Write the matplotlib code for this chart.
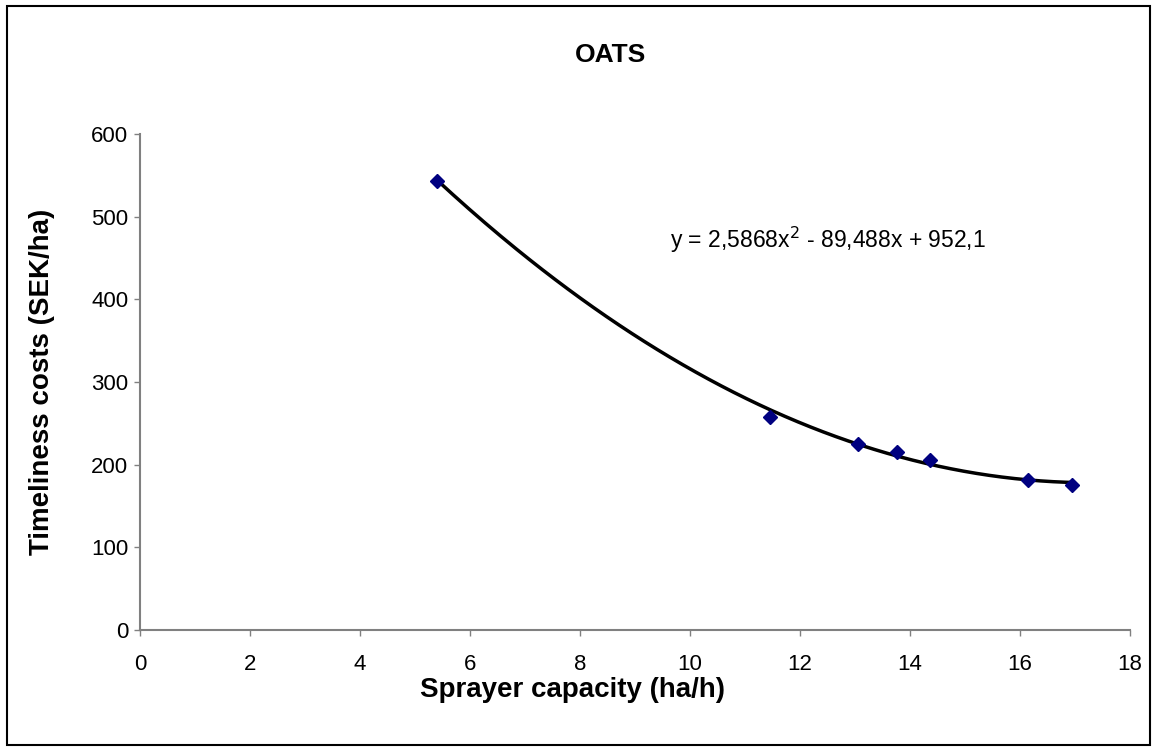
import numpy as np
import matplotlib
matplotlib.use("Agg")
import matplotlib.pyplot as plt
from matplotlib.patches import Rectangle

plt.rcParams['font.family'] = ['Liberation Sans', 'DejaVu Sans']

capacity = [5.4, 11.45, 13.05, 13.76, 14.37, 16.15, 16.95]
costs = [543, 258, 225, 215, 206, 182, 176]
coef = [2.5868, -89.488, 952.1]
title = "OATS"
xlabel = "Sprayer capacity (ha/h)"
ylabel = "Timeliness costs (SEK/ha)"
xticks = list(range(0, 19, 2))
yticks = list(range(0, 601, 100))

fig = plt.figure(figsize=(11.56, 7.51), dpi=100)
ax = fig.add_axes([140/1156, 1-630/751, 990/1156, 496/751])

xs = np.linspace(min(capacity), max(capacity), 200)
ax.plot(xs, np.polyval(coef, xs), color='black', lw=2.5, zorder=2)
ax.plot(capacity, costs, linestyle='none', marker='D', markersize=7,
        color='#000080', zorder=3)

ax.set_xlim(0, 18)
ax.set_ylim(0, 600)
ax.set_xticks(xticks)
ax.set_yticks(yticks)
ax.tick_params(labelsize=16, colors='black', length=4.5, width=1, color='#808080')
ax.tick_params(axis='x', pad=13)
ax.tick_params(axis='y', pad=4)
for s in ['top', 'right']:
    ax.spines[s].set_visible(False)
for s in ['left', 'bottom']:
    ax.spines[s].set_color('#808080')
    ax.spines[s].set_linewidth(1.5)

ax.text(670/1156, 1-240/751, "y = 2,5868x$^2$ - 89,488x + 952,1", transform=fig.transFigure,
        fontsize=16.5, ha='left', va='center')

fig.text(611/1156, 1-55/751, title, fontsize=19, fontweight='bold', ha='center', va='center')
fig.text(572/1156, 1-690/751, xlabel, fontsize=20, fontweight='bold', ha='center', va='center')
fig.text(42/1156, 1-382/751, ylabel, fontsize=20, fontweight='bold', ha='center', va='center',
         rotation=90)

fig.patches.append(Rectangle((7/1156, 6/751), 1143/1156, 739/751, transform=fig.transFigure,
                             fill=False, edgecolor='black', lw=1.5))

fig.savefig("out.png", dpi=100)
